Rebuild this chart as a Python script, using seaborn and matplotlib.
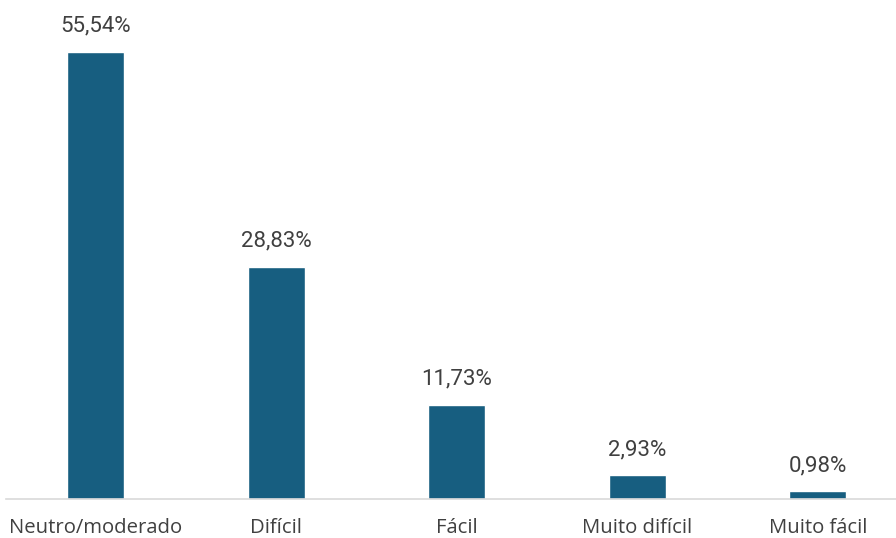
import matplotlib
matplotlib.use("Agg")
import matplotlib.pyplot as plt
import seaborn as sns
import pandas as pd

categories = ["Neutro/moderado", "Difícil", "Fácil", "Muito difícil", "Muito fácil"]
values = [55.54, 28.83, 11.73, 2.93, 0.98]
labels = ["55,54%", "28,83%", "11,73%", "2,93%", "0,98%"]

sns.set_theme(style="white")
plt.rcParams['font.family'] = ['Open Sans', 'DejaVu Sans']

W, H = 896, 538
fig = plt.figure(figsize=(W / 100, H / 100), dpi=100)
left = 5.75 / W
bottom = (H - 499) / H
top_px = 16
ax = fig.add_axes([left, bottom, 1 - left, (499 - top_px) / H])

df = pd.DataFrame({"cat": categories, "val": values})
sns.barplot(data=df, x="cat", y="val", color="#175E80", saturation=1,
            width=0.316, ax=ax)

ax.set_xlim(-0.5, 4.5 - (908 - 896) / 180.5)
ax.set_ylim(0, 60)
for i, (v, lab) in enumerate(zip(values, labels)):
    ax.annotate(lab, (i, v), xytext=(0, 14.4), textcoords="offset points",
                ha="center", va="baseline", fontsize=16, color="#404040",
                family=["Roboto", "DejaVu Sans"])

ax.set_xlabel("")
ax.set_ylabel("")
ax.set_yticks([])
ax.tick_params(axis="x", length=0, pad=14, labelsize=14.6, labelcolor="#404040")
for s in ["top", "right", "left"]:
    ax.spines[s].set_visible(False)
ax.spines["bottom"].set_color("#D9D9D9")
ax.spines["bottom"].set_linewidth(1.2)

fig.savefig("out.png", dpi=100)
